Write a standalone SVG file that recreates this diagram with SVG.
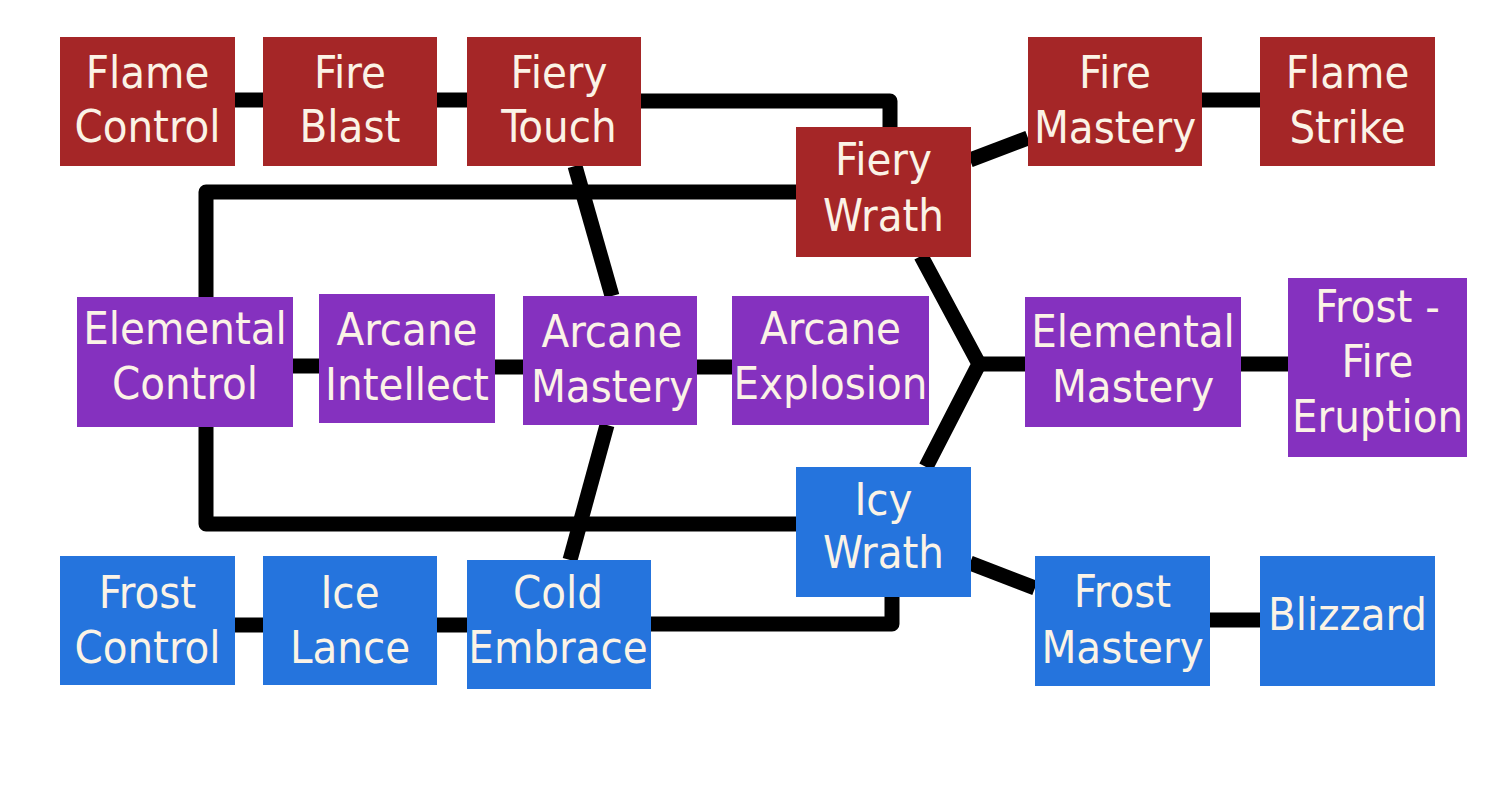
<svg xmlns="http://www.w3.org/2000/svg" width="1500" height="800" viewBox="0 0 1500 800">
<style>
.fire{fill:#A52627}
.arc{fill:#8531BF}
.ice{fill:#2574DD}
text{font-family:"DejaVu Sans Condensed","DejaVu Sans",sans-serif;font-stretch:condensed;font-size:45px;fill:#FBF3E6;text-anchor:middle}
.c{fill:none;stroke:#000;stroke-width:15;stroke-linejoin:round}
</style>
<rect width="1500" height="800" fill="#fff"/>
<g id="connectors">
<path class="c" d="M235,100H263"/>
<path class="c" d="M437,100H467"/>
<path class="c" d="M641,101H890V127"/>
<path class="c" d="M796,192H206V297"/>
<path class="c" d="M206,426V524H796"/>
<path class="c" d="M892,597V624H651"/>
<path class="c" d="M575,166L612,296"/>
<path class="c" d="M607,425L570,560"/>
<path class="c" d="M292,366H319"/>
<path class="c" d="M495,367H523"/>
<path class="c" d="M697,367H732"/>
<path class="c" style="stroke-linejoin:miter" d="M921,256L979,364L926,467"/>
<path class="c" d="M979,364H1025"/>
<path class="c" d="M1241,364H1288"/>
<path class="c" d="M970,160L1028,138"/>
<path class="c" d="M1202,100H1260"/>
<path class="c" d="M970,563L1035,588"/>
<path class="c" d="M1209,620H1260"/>
<path class="c" d="M235,625H263"/>
<path class="c" d="M437,625H467"/>
</g>
<g id="flame-control"><rect class="fire" x="60" y="37" width="175" height="129"/><text x="147.5" y="88">Flame</text><text x="147.5" y="142">Control</text></g>
<g id="fire-blast"><rect class="fire" x="263" y="37" width="174" height="129"/><text x="350" y="88">Fire</text><text x="350" y="142">Blast</text></g>
<g id="fiery-touch"><rect class="fire" x="467" y="37" width="174" height="129"/><text x="559" y="88">Fiery</text><text x="559" y="142">Touch</text></g>
<g id="fiery-wrath"><rect class="fire" x="796" y="127" width="175" height="130"/><text x="883.5" y="175">Fiery</text><text x="883.5" y="231">Wrath</text></g>
<g id="fire-mastery"><rect class="fire" x="1028" y="37" width="174" height="129"/><text x="1115" y="88">Fire</text><text x="1115" y="143">Mastery</text></g>
<g id="flame-strike"><rect class="fire" x="1260" y="37" width="175" height="129"/><text x="1347.5" y="88">Flame</text><text x="1347.5" y="143">Strike</text></g>
<g id="elemental-control"><rect class="arc" x="77" y="297" width="216" height="130"/><text x="185" y="344">Elemental</text><text x="185" y="399">Control</text></g>
<g id="arcane-intellect"><rect class="arc" x="319" y="294" width="176" height="129"/><text x="407" y="345">Arcane</text><text x="407" y="400">Intellect</text></g>
<g id="arcane-mastery"><rect class="arc" x="523" y="296" width="174" height="129"/><text x="612" y="347">Arcane</text><text x="612" y="402">Mastery</text></g>
<g id="arcane-explosion"><rect class="arc" x="732" y="296" width="197" height="129"/><text x="830.5" y="344">Arcane</text><text x="830.5" y="399">Explosion</text></g>
<g id="elemental-mastery"><rect class="arc" x="1025" y="297" width="216" height="130"/><text x="1133" y="347">Elemental</text><text x="1133" y="402">Mastery</text></g>
<g id="frost-fire-eruption"><rect class="arc" x="1288" y="278" width="179" height="179"/><text x="1377.5" y="322">Frost -</text><text x="1377.5" y="377">Fire</text><text x="1377.5" y="432">Eruption</text></g>
<g id="icy-wrath"><rect class="ice" x="796" y="467" width="175" height="130"/><text x="883.5" y="515">Icy</text><text x="883.5" y="568">Wrath</text></g>
<g id="frost-control"><rect class="ice" x="60" y="556" width="175" height="129"/><text x="147.5" y="608">Frost</text><text x="147.5" y="663">Control</text></g>
<g id="ice-lance"><rect class="ice" x="263" y="556" width="174" height="129"/><text x="350" y="608">Ice</text><text x="350" y="663">Lance</text></g>
<g id="cold-embrace"><rect class="ice" x="467" y="560" width="184" height="129"/><text x="558" y="608">Cold</text><text x="558" y="663">Embrace</text></g>
<g id="frost-mastery"><rect class="ice" x="1035" y="556" width="175" height="130"/><text x="1122.5" y="607">Frost</text><text x="1122.5" y="663">Mastery</text></g>
<g id="blizzard"><rect class="ice" x="1260" y="556" width="175" height="130"/><text x="1347.5" y="630">Blizzard</text></g>
</svg>
